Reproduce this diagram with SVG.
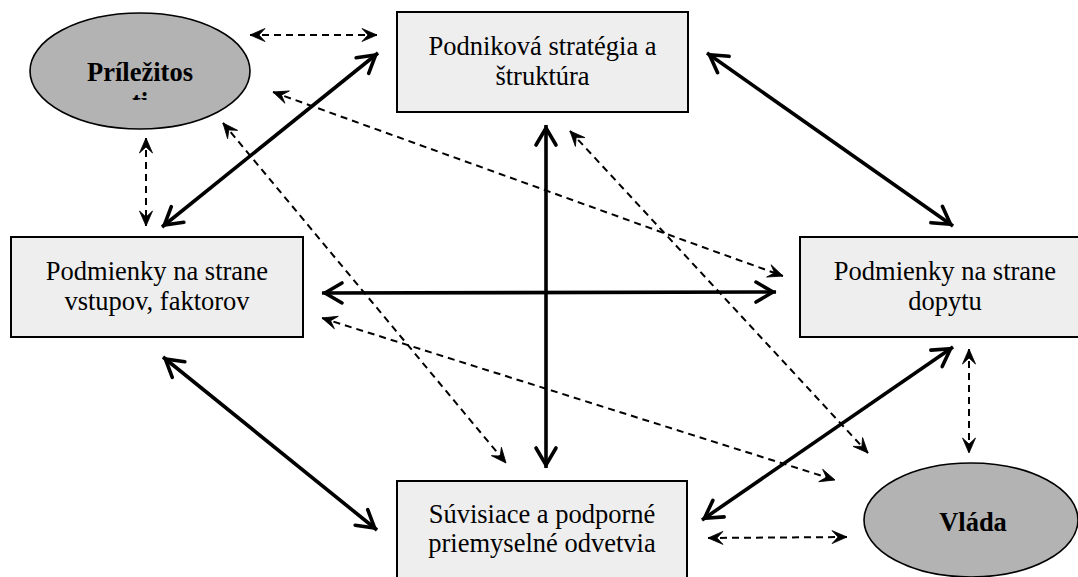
<svg xmlns="http://www.w3.org/2000/svg" width="1078" height="577" viewBox="0 0 1078 577">
<style>
.box{fill:#eeeeee;stroke:#000;stroke-width:2}
.ell{fill:#b3b3b3;stroke:#000;stroke-width:1.6}
.t{font-family:"Liberation Serif","Times New Roman",serif;font-size:26.5px;fill:#000;text-anchor:middle}
.b{font-weight:bold}
.solid{stroke:#000;stroke-width:3.6;fill:none;marker-start:url(#open);marker-end:url(#open)}
.dash{stroke:#000;stroke-width:2;fill:none;stroke-dasharray:7 5;marker-start:url(#stealth);marker-end:url(#stealth)}
</style>
<defs>
<marker id="open" markerUnits="userSpaceOnUse" orient="auto-start-reverse" markerWidth="40" markerHeight="40" refX="0" refY="0" viewBox="-30 -20 40 40" overflow="visible">
<path d="M-20,-10 L-3,0 L-20,10" fill="none" stroke="#000" stroke-width="3.6" stroke-linejoin="miter" stroke-linecap="round"/>
</marker>
<marker id="stealth" markerUnits="userSpaceOnUse" orient="auto-start-reverse" markerWidth="30" markerHeight="30" refX="0" refY="0" viewBox="-20 -15 30 30" overflow="visible">
<path d="M0,0 L-15,-6.5 L-9,0 L-15,6.5 Z" fill="#000" stroke="#000" stroke-width="0.8" stroke-linejoin="round"/>
</marker>
<clipPath id="clipP"><rect x="30" y="40" width="220" height="60"/></clipPath>
</defs>

<g id="connectors">
<line class="dash" x1="250" y1="35" x2="377" y2="35"/>
<line class="dash" x1="146" y1="138" x2="146" y2="226"/>
<line class="dash" x1="273" y1="92" x2="783" y2="276"/>
<line class="dash" x1="223" y1="123" x2="506" y2="463"/>
<line class="dash" x1="570" y1="131" x2="868" y2="453"/>
<line class="dash" x1="322" y1="318" x2="835" y2="480"/>
<line class="dash" x1="969" y1="349" x2="969" y2="453"/>
<line class="dash" x1="708" y1="538" x2="847" y2="537"/>
<line class="solid" x1="378" y1="53" x2="162" y2="227"/>
<line class="solid" x1="546" y1="125" x2="546" y2="468"/>
<line class="solid" x1="707" y1="53" x2="953" y2="226"/>
<line class="solid" x1="322" y1="293" x2="776" y2="292"/>
<line class="solid" x1="163" y1="357" x2="377" y2="530"/>
<line class="solid" x1="702" y1="520" x2="953" y2="347"/>
</g>

<g id="node-prilezitosti">
<ellipse class="ell" cx="140" cy="71" rx="110" ry="58"/>
<text class="t b" clip-path="url(#clipP)"><tspan x="140" y="81">Príležitos</tspan><tspan x="140" y="111">ti</tspan></text>
</g>

<g id="node-strategia">
<rect class="box" x="397" y="12" width="291" height="100"/>
<text class="t"><tspan x="542.5" y="55">Podniková stratégia a</tspan><tspan x="542.5" y="85">štruktúra</tspan></text>
</g>

<g id="node-vstupy">
<rect class="box" x="11" y="237" width="292" height="100"/>
<text class="t"><tspan x="157" y="280">Podmienky na strane</tspan><tspan x="157" y="310">vstupov, faktorov</tspan></text>
</g>

<g id="node-dopyt">
<rect class="box" x="800" y="237" width="290" height="100"/>
<text class="t"><tspan x="945" y="280">Podmienky na strane</tspan><tspan x="945" y="310">dopytu</tspan></text>
</g>

<g id="node-odvetvia">
<rect class="box" x="397" y="481" width="290" height="100"/>
<text class="t"><tspan x="542" y="523">Súvisiace a podporné</tspan><tspan x="542" y="552">priemyselné odvetvia</tspan></text>
</g>

<g id="node-vlada">
<ellipse class="ell" cx="971" cy="520" rx="107" ry="57"/>
<text class="t b" x="973" y="531">Vláda</text>
</g>
</svg>
